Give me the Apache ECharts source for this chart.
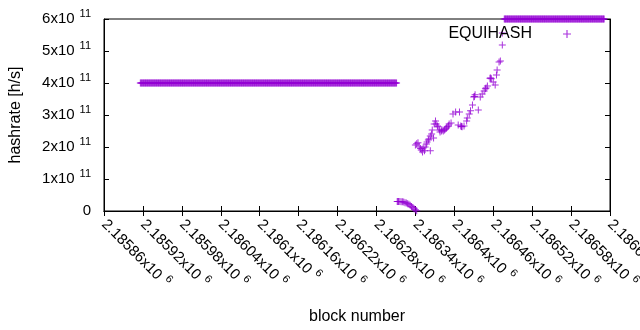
<!DOCTYPE html>
<html>
<head>
<meta charset="utf-8">
<script src="https://cdn.jsdelivr.net/npm/echarts@6/dist/echarts.min.js"></script>
<style>
  html, body { margin: 0; padding: 0; background: #fff; }
  #chart { width: 640px; height: 330px; }
</style>
</head>
<body>
<div id="chart"></div>
<script>
// x axis ticks: block numbers, every 60 blocks
const xMin = 2185860;
const xMax = 2186640;
const xStep = 60;
// y axis ticks: hashrate 0 .. 6x10^11
const yMin = 0;
const yMax = 6e11;
const yStep = 1e11;

// long runs where every block sits at the same hashrate
const plateauFrom = [2185916, 2186477];
const plateauTo = [2186311, 2186631];
const plateauValue = [4e11, 6e11];

// short drop towards zero right after the first plateau
const tailBlock = [2186312, 2186313, 2186314, 2186316, 2186318, 2186320, 2186322, 2186324,
  2186326, 2186328, 2186330, 2186332, 2186334, 2186336, 2186338, 2186340, 2186342];
const tailValue = [0.30e11, 0.30e11, 0.30e11, 0.30e11, 0.29e11, 0.29e11, 0.28e11, 0.26e11,
  0.25e11, 0.23e11, 0.21e11, 0.18e11, 0.14e11, 0.11e11, 0.07e11, 0.04e11, 0.01e11];

// noisy climb between the two plateaus
const climbBlock = [2186340, 2186342, 2186344, 2186346, 2186348, 2186349, 2186351, 2186352,
  2186354, 2186355, 2186357, 2186358, 2186360, 2186361, 2186363, 2186363, 2186365, 2186366,
  2186368, 2186369, 2186371, 2186372, 2186374, 2186375, 2186377, 2186378, 2186380, 2186381,
  2186383, 2186385, 2186386, 2186388, 2186389, 2186391, 2186392, 2186395, 2186398, 2186402,
  2186406, 2186408, 2186410, 2186411, 2186412, 2186415, 2186419, 2186420, 2186423, 2186425,
  2186428, 2186430, 2186431, 2186432, 2186437, 2186440, 2186443, 2186446, 2186448, 2186449,
  2186451, 2186455, 2186456, 2186457, 2186460, 2186463, 2186465, 2186466, 2186469, 2186471,
  2186474, 2186474];
const climbValue = [2.06e11, 2.10e11, 2.13e11, 2.00e11, 1.95e11, 1.91e11, 1.84e11, 1.97e11,
  1.88e11, 2.00e11, 2.09e11, 2.16e11, 2.22e11, 2.25e11, 1.88e11, 2.34e11, 2.41e11, 2.53e11,
  2.28e11, 2.72e11, 2.81e11, 2.72e11, 2.66e11, 2.63e11, 2.53e11, 2.47e11, 2.50e11, 2.53e11,
  2.50e11, 2.53e11, 2.56e11, 2.59e11, 2.63e11, 2.66e11, 2.72e11, 2.75e11, 3.03e11, 3.09e11,
  2.69e11, 3.09e11, 2.66e11, 2.64e11, 2.63e11, 2.66e11, 2.81e11, 2.91e11, 3.03e11, 3.13e11,
  3.31e11, 3.56e11, 3.58e11, 3.63e11, 3.16e11, 3.56e11, 3.66e11, 3.75e11, 3.82e11, 3.84e11,
  3.91e11, 4.15e11, 4.16e11, 4.13e11, 4.03e11, 3.94e11, 4.25e11, 4.41e11, 4.66e11, 4.69e11,
  5.19e11, 5.56e11];

const points = [];
for (let r = 0; r < plateauFrom.length; r++) {
  for (let b = plateauFrom[r]; b <= plateauTo[r]; b++) points.push([b, plateauValue[r]]);
}
tailBlock.forEach((b, i) => points.push([b, tailValue[i]]));
climbBlock.forEach((b, i) => points.push([b, climbValue[i]]));

const plus = 'path://M3,0H4V3H7V4H4V7H3V4H0V3H3Z';
const violet = '#9400d3';
const font = "'Liberation Sans', Arial, sans-serif";

const rich = {
  a: { fontSize: 15, lineHeight: 22, fontFamily: font, color: '#000' },
  sup: { fontSize: 11, lineHeight: 12, verticalAlign: 'top', padding: [0, 0, 0, 5], fontFamily: font, color: '#000' }
};

const xLabel = (v) => `{a|${parseFloat((v / 1e6).toFixed(5))}x10}{sup|6}`;
const yLabel = (v) => (v === 0 ? '{a|0}' : `{a|${Math.round(v / 1e11)}x10}{sup|11}`);

const tickStyle = { inside: true, length: 5, lineStyle: { color: '#000' } };
const lineStyle = { lineStyle: { color: '#000', width: 1 } };

const chart = echarts.init(document.getElementById('chart'), null, { renderer: 'canvas' });
chart.setOption({
  animation: false,
  backgroundColor: '#fff',
  grid: {
    left: 104, right: 30, top: 19, bottom: 119,
    containLabel: false, outerBoundsMode: 'none',
    show: true, borderColor: '#000', borderWidth: 1
  },
  legend: {
    data: ['EQUIHASH'],
    right: 64,
    top: 21,
    align: 'right',
    icon: plus,
    itemWidth: 8,
    itemHeight: 8,
    itemStyle: { color: violet },
    textStyle: { fontSize: 16, fontFamily: font, color: '#000', padding: [0, 26, 0, 0] }
  },
  xAxis: [
    {
      type: 'value', min: xMin, max: xMax, interval: xStep,
      name: 'block number', nameLocation: 'middle', nameGap: 98,
      nameTextStyle: { fontSize: 16, fontFamily: font, color: '#000' },
      axisLine: lineStyle, axisTick: tickStyle, splitLine: { show: false },
      axisLabel: { rotate: -45, margin: 11, formatter: xLabel, rich: rich, showMinLabel: true, showMaxLabel: true }
    },
    {
      type: 'value', position: 'top', min: xMin, max: xMax, interval: xStep,
      axisLine: lineStyle, axisTick: tickStyle, splitLine: { show: false }, axisLabel: { show: false }
    }
  ],
  yAxis: [
    {
      type: 'value', min: yMin, max: yMax, interval: yStep,
      name: 'hashrate [h/s]', nameLocation: 'middle', nameGap: 80,
      nameTextStyle: { fontSize: 16, fontFamily: font, color: '#000' },
      axisLine: lineStyle, axisTick: tickStyle, splitLine: { show: false },
      axisLabel: { margin: 13, formatter: yLabel, rich: rich }
    },
    {
      type: 'value', position: 'right', min: yMin, max: yMax, interval: yStep,
      axisLine: lineStyle, axisTick: tickStyle, splitLine: { show: false }, axisLabel: { show: false }
    }
  ],
  series: [
    {
      name: 'EQUIHASH',
      type: 'scatter',
      symbol: plus,
      symbolSize: 7,
      itemStyle: { color: violet },
      data: points
    }
  ]
});
</script>
</body>
</html>
